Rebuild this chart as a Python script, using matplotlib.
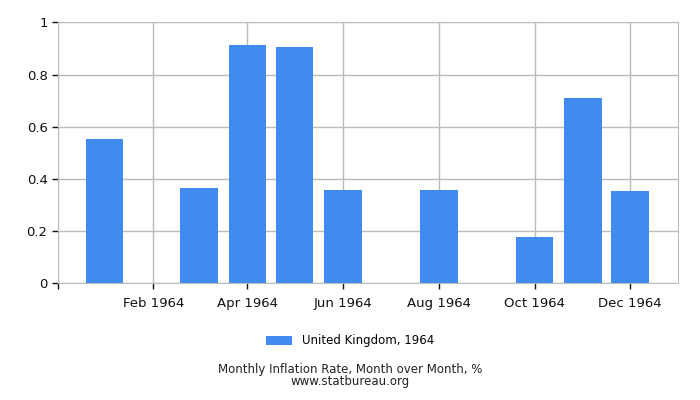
import datetime as dt
import matplotlib
matplotlib.use("Agg")
import matplotlib.pyplot as plt
import matplotlib.dates as mdates
from matplotlib.ticker import FuncFormatter

months = [dt.date(1964, m, 1) for m in range(1, 13)]
values = [0.553, 0, 0.365, 0.913, 0.905, 0.357, 0, 0.357, 0, 0.177, 0.71, 0.354]
series_name = "United Kingdom, 1964"
title = "Monthly Inflation Rate, Month over Month, %"
source = "www.statbureau.org"

bar_color = "#418bee"
grid_color = "#bbbbbb"

fig = plt.figure(figsize=(7, 4), dpi=100)
ax = fig.add_axes([0.0829, 0.2918, 0.8857, 0.6522])

bars = ax.bar(months, values, width=24, color=bar_color, label=series_name, zorder=3)

ax.set_xlim(dt.datetime(1963, 12, 2, 8), dt.datetime(1964, 12, 31, 10))
ax.set_ylim(0, 1)
ax.set_yticks([0, 0.2, 0.4, 0.6, 0.8, 1])
ax.set_yticklabels(["0", "0.2", "0.4", "0.6", "0.8", "1"])
ax.xaxis.set_major_locator(mdates.MonthLocator(bymonth=[2, 4, 6, 8, 10, 12]))


def month_label(x, pos):
    d = mdates.num2date(x)
    if d.year < 1964:
        return ""
    return d.strftime("%b %Y")


ax.xaxis.set_major_formatter(FuncFormatter(month_label))
# small tick at the left corner, as in the original
ax.set_xticks(list(ax.get_xticks()) + [ax.get_xlim()[0]])

ax.grid(True, color=grid_color, linewidth=1, zorder=0)
for s in ax.spines.values():
    s.set_color(grid_color)
ax.tick_params(axis="both", colors="#111111", labelsize=9.5, length=4, width=1)
ax.tick_params(axis="x", pad=6)

fig.legend(handles=[bars], labels=[series_name], loc="center", bbox_to_anchor=(0.5, 0.148),
           frameon=False, fontsize=8.5, handlelength=2.2, handleheight=0.8)
fig.text(0.5, 0.061, title + "\n" + source, ha="center", va="center",
         fontsize=8.5, color="#222222", linespacing=0.95)

fig.savefig("out.png", dpi=100)
